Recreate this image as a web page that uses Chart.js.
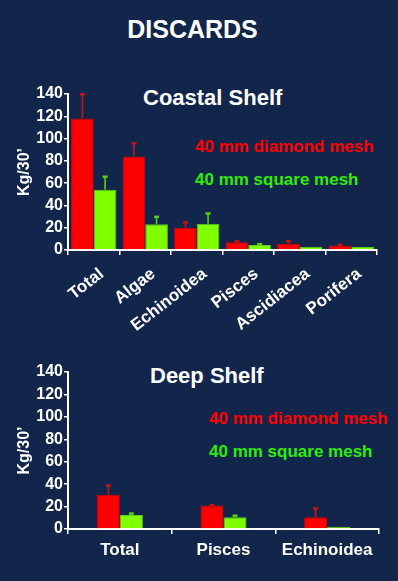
<!DOCTYPE html>
<html>
<head>
<meta charset="utf-8">
<script src="https://cdn.jsdelivr.net/npm/chart.js@4"></script>
<style>
  html, body { margin: 0; padding: 0; }
  body {
    width: 398px; height: 581px; overflow: hidden; position: relative;
    background: #12264c; font-family: "Liberation Sans", Arial, sans-serif; font-weight: bold;
  }
  .txt { position: absolute; white-space: nowrap; line-height: 1; }
  .box { position: absolute; left: 0; width: 398px; }
</style>
</head>
<body>
<div class="txt" style="left:0;width:385px;text-align:center;top:17px;font-size:25px;color:#fff">DISCARDS</div>
<div class="txt" style="left:143px;top:87px;font-size:22px;color:#fff">Coastal Shelf</div>
<div class="txt" style="left:195px;top:138px;font-size:17px;color:#ff0000">40 mm diamond mesh</div>
<div class="txt" style="left:195px;top:171px;font-size:17px;color:#2cee0a">40 mm square mesh</div>
<div class="txt" style="left:150px;top:365px;font-size:22px;color:#fff">Deep Shelf</div>
<div class="txt" style="left:209px;top:410px;font-size:17px;color:#ff0000">40 mm diamond mesh</div>
<div class="txt" style="left:209px;top:443px;font-size:17px;color:#2cee0a">40 mm square mesh</div>

<div class="box" style="top:0;height:345px"><canvas id="coastal"></canvas></div>
<div class="box" style="top:345px;height:236px"><canvas id="deep"></canvas></div>

<script>
// coastal shelf
const coastalLabels = ["Total", "Algae", "Echinoidea", "Pisces", "Ascidiacea", "Porifera"];
const coastalDiamond = [118, 84, 20, 7, 5.5, 4];
const coastalDiamondErr = [140, 96, 25, 8, 8, 4.8];
const coastalSquare = [54, 23, 23.5, 4.5, 3, 2.8];
const coastalSquareErr = [66, 30, 33, 5.5, 3.2, 3];

// deep shelf
const deepLabels = ["Total", "Pisces", "Echinoidea"];
const deepDiamond = [30.5, 21, 10.5];
const deepDiamondErr = [39, 21.5, 18.5];
const deepSquare = [12.5, 10.5, 2];
const deepSquareErr = [14, 12, 2];

const yTicks = [0, 20, 40, 60, 80, 100, 120, 140];

const RED = "#ff0000", GREEN = "#80ff00";
Chart.defaults.font.family = '"Liberation Sans", Arial, sans-serif';
Chart.defaults.font.weight = "bold";
Chart.defaults.color = "#fff";

// upper error bars, drawn from the bar top to the error value
const errorBars = {
    id: "errorBars",
    afterDatasetsDraw(chart) {
        const ctx = chart.ctx;
        const y = chart.scales.y;
        chart.data.datasets.forEach(function (ds, di) {
            const meta = chart.getDatasetMeta(di);
            meta.data.forEach(function (bar, i) {
                const top = y.getPixelForValue(ds.errTop[i]);
                if (bar.y - top < 0.5) return;
                ctx.save();
                ctx.strokeStyle = ds.errColor;
                ctx.lineWidth = 1.6;
                ctx.beginPath();
                ctx.moveTo(bar.x, bar.y);
                ctx.lineTo(bar.x, top);
                ctx.stroke();
                ctx.fillStyle = ds.errColor;
                ctx.fillRect(bar.x - 2.5, top - 1, 5, 2.5);
                ctx.restore();
            });
        });
    }
};

function makeChart(id, labels, diamond, diamondErr, square, squareErr, opt) {
    const ctx = document.getElementById(id).getContext("2d");
    return new Chart(ctx, {
        type: "bar",
        data: {
            labels: labels,
            datasets: [
                {
                    label: "40 mm diamond mesh",
                    data: diamond,
                    errTop: diamondErr,
                    errColor: "#c41414",
                    backgroundColor: RED,
                    borderColor: "#d40000",
                    borderWidth: 1,
                    categoryPercentage: opt.cat,
                    barPercentage: 1.0,
                },
                {
                    label: "40 mm square mesh",
                    data: square,
                    errTop: squareErr,
                    errColor: "#5ccc16",
                    backgroundColor: GREEN,
                    borderColor: "#5fcc1e",
                    borderWidth: 1,
                    categoryPercentage: opt.cat,
                    barPercentage: 1.0,
                },
            ],
        },
        options: {
            responsive: true,
            maintainAspectRatio: false,
            animation: false,
            layout: { padding: { top: opt.top, right: opt.right, left: 0, bottom: 0 } },
            plugins: { legend: { display: false }, tooltip: { enabled: false } },
            scales: {
                x: {
                    grid: { display: true, drawOnChartArea: false, color: "#fff", tickLength: 5, lineWidth: 1.5, offset: true },
                    border: { color: "#fff", width: 2 },
                    ticks: {
                        color: "#fff",
                        font: { size: opt.xFont, weight: "bold" },
                        minRotation: opt.rot, maxRotation: opt.rot,
                        padding: opt.xPad,
                        labelOffset: opt.labelOffset,
                        autoSkip: false,
                    },
                    afterFit: function (s) { s.height = opt.xHeight; },
                },
                y: {
                    min: 0, max: 140,
                    afterBuildTicks: function (s) { s.ticks = yTicks.map(v => ({ value: v })); },
                    grid: { display: true, drawOnChartArea: false, color: "#fff", tickLength: 4, lineWidth: 1.5 },
                    border: { color: "#fff", width: 2 },
                    ticks: { color: "#fff", font: { size: 16, weight: "bold" }, padding: 1, autoSkip: false },
                    title: {
                        display: true, text: "Kg/30\u2019", color: "#fff",
                        font: { size: 16, weight: "bold" }, padding: { top: 15, bottom: 0 },
                    },
                    afterFit: function (s) { s.width = 68; },
                },
            },
        },
        plugins: [errorBars],
    });
}

makeChart("coastal", coastalLabels, coastalDiamond, coastalDiamondErr, coastalSquare, coastalSquareErr,
    { cat: 0.88, top: 94, right: 21, xFont: 17, rot: 38, xPad: 9, labelOffset: 8, xHeight: 95 });
makeChart("deep", deepLabels, deepDiamond, deepDiamondErr, deepSquare, deepSquareErr,
    { cat: 0.445, top: 27, right: 19, xFont: 17, rot: 0, xPad: 6, labelOffset: 0, xHeight: 52 });
</script>
</body>
</html>
